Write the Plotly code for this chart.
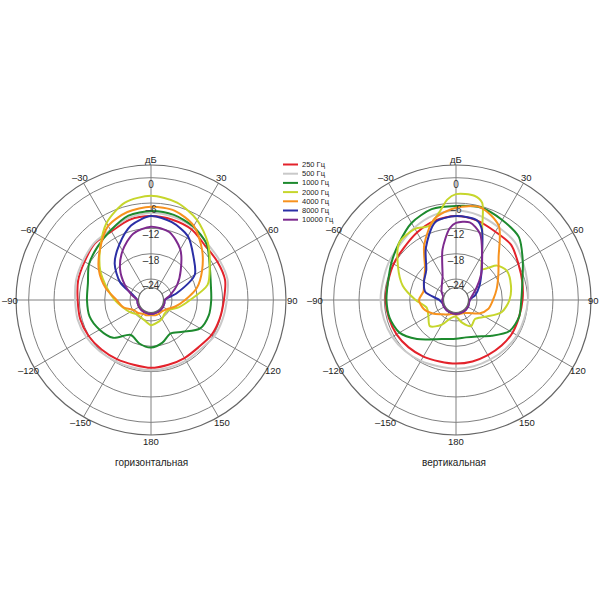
import math
import plotly.graph_objects as go

# ---------------- data ----------------
freq_labels = ["250 Гц", "500 Гц", "1000 Гц", "2000 Гц", "4000 Гц", "8000 Гц", "10000 Гц"]
colors = ["#e3222b", "#c9c9c9", "#1d8a2e", "#c6d62c", "#f7921e", "#2b2fa6", "#7d2a8e"]

ang_ticks = [0, 30, 60, 90, 120, 150, 180, 210, 240, 270, 300, 330]
ang_text = ["дБ", "30", "60", "90", "120", "150", "180", "–150", "–120", "–90", "–60", "–30"]
db_ticks = [0, -6, -12, -18, -24]
db_text = ["0", "–6", "–12", "–18", "–24"]

ANG15 = list(range(0, 360, 15))

# horizontal plane (left)
h_250 = [-9.1, -9.3, -9.7, -10.8, -10.8, -10.8, -11.7, -12.1, -12.4, -13.1, -13.1, -13.1,
         -12.9, -13.1, -12.8, -12.4, -11.9, -11.6, -11.6, -11.1, -10.8, -10.1, -10.2, -9.3]
h_500 = [-8.3, -8.6, -9.1, -10.1, -10.2, -10.2, -11.0, -11.4, -11.7, -12.4, -12.4, -12.4,
         -12.3, -12.4, -12.2, -11.8, -11.3, -11.0, -11.0, -10.6, -10.4, -9.9, -9.8, -8.8]
h_1000 = [-7.9, -8.1, -8.9, -10.3, -12.9, -14.3, -14.7, -14.8, -15.5, -18.3, -19.8, -18.5,
          -17.7, -18.3, -19.4, -16.3, -14.9, -13.9, -13.8, -13.5, -12.0, -11.1, -9.9, -8.3]
h_2000 = [-4.3, -5.1, -7.1, -9.9, -12.9, -15.1, -19.7, -22.2, -24.2, -24.4, -23.8, -23.4,
          -23.0, -23.8, -24.2, -24.2, -23.2, -22.1, -20.4, -18.2, -15.1, -11.9, -7.9, -5.1]
h_4000 = [-6.9, -7.1, -8.7, -11.9, -15.0, -17.7, -20.9, -23.0, -24.6, -25.2, -25.2, -25.2,
          -25.4, -25.2, -25.2, -24.6, -24.2, -22.2, -20.8, -17.8, -14.7, -11.9, -8.7, -7.4]
h_8000 = [-9.1, -9.9, -11.5, -14.7, -17.0, -22.6, -25.7, -25.7, -25.7, -25.7, -25.7, -25.7,
          -25.7, -25.7, -25.7, -25.7, -25.7, -25.7, -25.7, -24.6, -20.5, -16.8, -13.9, -10.7]
h_10000 = [-11.6, -12.3, -15.1, -19.0, -21.8, -24.2, -25.7, -25.7, -25.7, -25.7, -25.7, -25.7,
           -25.7, -25.7, -25.7, -25.7, -25.7, -25.7, -25.7, -24.2, -21.8, -18.6, -15.5, -12.7]

# vertical plane (right)
v_250 = [-9.1, -9.5, -10.3, -10.5, -11.9, -12.7, -13.2, -13.5, -13.5, -13.7, -13.9, -13.9,
         -13.9, -13.9, -13.5, -13.1, -12.7, -12.5, -12.3, -12.3, -11.9, -11.5, -10.5, -9.5]
v_500 = [-7.8, -8.2, -9.0, -9.4, -10.7, -11.5, -11.9, -12.2, -12.3, -12.5, -12.7, -12.7,
         -12.7, -12.7, -12.3, -11.9, -11.5, -11.3, -11.1, -11.1, -10.7, -10.3, -9.2, -8.2]
v_1000 = [-6.7, -6.3, -7.1, -7.9, -10.7, -12.7, -13.5, -13.5, -14.3, -17.0, -19.0, -19.8,
          -19.8, -19.4, -18.2, -15.9, -13.5, -12.7, -12.5, -12.3, -11.3, -9.9, -7.9, -6.7]
v_2000_ang = [0, 10, 15, 20, 30, 40, 45, 50, 60, 75, 90, 105, 120, 135, 150, 165, 180, 195,
              210, 225, 240, 255, 270, 285, 300, 315, 330, 340, 350, 355]
v_2000 = [-3.9, -3.9, -5.1, -10.8, -16.6, -19.4, -18.2, -16.3, -15.1, -15.5, -16.3, -17.8,
          -21.0, -22.6, -21.8, -23.4, -25.0, -24.6, -22.2, -20.2, -21.4, -21.8, -19.4, -15.9,
          -13.1, -9.9, -9.5, -10.3, -7.5, -5.1]
v_4000 = [-7.1, -6.3, -8.7, -14.7, -17.4, -19.0, -20.2, -21.0, -22.6, -24.6, -25.4, -25.5,
          -25.5, -25.5, -25.0, -24.2, -22.6, -21.0, -20.2, -21.0, -20.2, -18.6, -13.9, -9.1]
v_8000_ang = [0, 15, 20, 30, 45, 60, 75, 90, 120, 150, 180, 210, 240, 255, 270, 285, 300, 315, 330, 345]
v_8000 = [-9.1, -9.5, -11.1, -16.6, -20.5, -22.6, -24.2, -25.7, -25.7, -25.7, -25.7, -25.7,
          -25.7, -25.7, -25.0, -21.4, -20.2, -19.0, -14.7, -9.9]
v_10000_ang = [0, 10, 20, 30, 45, 60, 75, 90, 120, 150, 180, 210, 240, 270, 285, 300, 315, 330, 345, 355]
v_10000 = [-10.7, -10.3, -12.3, -16.6, -20.6, -23.4, -25.0, -25.7, -25.7, -25.7, -25.7, -25.7,
           -25.7, -25.7, -25.8, -25.0, -24.2, -22.6, -16.6, -11.9]

left_series = [(ANG15, h_250), (ANG15, h_500), (ANG15, h_1000), (ANG15, h_2000),
               (ANG15, h_4000), (ANG15, h_8000), (ANG15, h_10000)]
right_series = [(ANG15, v_250), (ANG15, v_500), (ANG15, v_1000), (v_2000_ang, v_2000),
                (ANG15, v_4000), (v_8000_ang, v_8000), (v_10000_ang, v_10000)]

R_MIN, R_MAX = -26, 3

# ---------------- geometry (body margin removed via post_script) ----------------
W = H = 600
RAD = 135
CY = 300
CX_L, CX_R = 151, 456
LABEL_RAD = 141  # angular labels ring


def px(x):
    return x / W


def py(y):
    return 1 - y / H


def dom(cx):
    return dict(x=[px(cx - RAD), px(cx + RAD)], y=[py(CY + RAD), py(CY - RAD)])


# ---------------- figure ----------------
fig = go.Figure()


def closed(a, r):
    return list(a) + [a[0] + 360], list(r) + [r[0]]


for i, (lbl, col) in enumerate(zip(freq_labels, colors)):
    th, rr = closed(*left_series[i])
    fig.add_trace(go.Scatterpolar(r=rr, theta=th, mode="lines", name=lbl, showlegend=False,
                                  line=dict(color=col, width=2, shape="spline", smoothing=0.8),
                                  subplot="polar2", hoverinfo="skip"))
    th, rr = closed(*right_series[i])
    fig.add_trace(go.Scatterpolar(r=rr, theta=th, mode="lines", name=lbl, showlegend=False,
                                  line=dict(color=col, width=2, shape="spline", smoothing=0.8),
                                  subplot="polar4", hoverinfo="skip"))

LABEL_SHIFT = 1.8   # radial labels sit just inside their circle
for sp in ["polar2", "polar4"]:
    fig.add_trace(go.Scatterpolar(r=[t - LABEL_SHIFT for t in db_ticks], theta=[0] * len(db_ticks),
                                  mode="text", text=db_text, textposition="middle center",
                                  textfont=dict(size=10, color="#333"), showlegend=False,
                                  cliponaxis=False, subplot=sp, hoverinfo="skip"))

GRID_FAINT = "#9c9c9c"
GRID_SOLID = "#808080"
HOLE = 12.5 / RAD


def base_polar(cx):
    return dict(
        domain=dom(cx), hole=HOLE, bgcolor="white",
        radialaxis=dict(range=[R_MIN, R_MAX], tickvals=list(range(-24, 4, 3)), showticklabels=False,
                        ticks="", showline=False, gridcolor=GRID_FAINT, griddash="dot", gridwidth=1),
        angularaxis=dict(rotation=90, direction="clockwise", tickvals=list(range(0, 360, 15)),
                         showticklabels=False, ticks="", showline=False,
                         gridcolor=GRID_FAINT, griddash="dot", gridwidth=1),
    )


def top_polar(cx):
    return dict(
        domain=dom(cx), hole=HOLE, bgcolor="rgba(0,0,0,0)",
        radialaxis=dict(range=[R_MIN, R_MAX], tickvals=[-24, -18, -12, -6, 0], showticklabels=False,
                        ticks="", showline=False, gridcolor=GRID_SOLID, gridwidth=1),
        angularaxis=dict(rotation=90, direction="clockwise", tickvals=ang_ticks,
                         showticklabels=False, ticks="", showline=True, linecolor="#666",
                         linewidth=1.2, gridcolor=GRID_SOLID, gridwidth=1),
    )


shapes = []
annotations = []

# angular tick labels, placed on a ring just outside each rim (kept inside the page)
for cx in (CX_L, CX_R):
    for a, t in zip(ang_ticks, ang_text):
        ax = cx + LABEL_RAD * math.sin(math.radians(a))
        ay = CY - LABEL_RAD * math.cos(math.radians(a))
        ax = min(max(ax, 9), 593)
        annotations.append(dict(text=t, x=px(ax), y=py(ay), xref="paper", yref="paper",
                                xanchor="center", yanchor="middle", showarrow=False,
                                font=dict(size=9.5, color="#222")))

# compact legend drawn with shapes + text
LEG_Y0, LEG_DY = 164.5, 9.2
for i, (lbl, col) in enumerate(zip(freq_labels, colors)):
    y = LEG_Y0 + i * LEG_DY
    shapes.append(dict(type="line", xref="paper", yref="paper", x0=px(283), x1=px(298),
                       y0=py(y), y1=py(y), line=dict(color=col, width=2)))
    annotations.append(dict(text=lbl, x=px(300), y=py(y), xref="paper", yref="paper",
                            xanchor="left", yanchor="middle", showarrow=False,
                            font=dict(size=7.5, color="#222")))

annotations.append(dict(text="горизонтальная", x=px(CX_L), y=py(462), xref="paper", yref="paper",
                        xanchor="center", yanchor="middle", showarrow=False,
                        font=dict(size=10, color="#222")))
annotations.append(dict(text="вертикальная", x=px(CX_R - 2), y=py(462), xref="paper", yref="paper",
                        xanchor="center", yanchor="middle", showarrow=False,
                        font=dict(size=10, color="#222")))

fig.update_layout(
    width=W, height=H,
    paper_bgcolor="white", plot_bgcolor="white",
    margin=dict(l=0, r=0, t=0, b=0),
    font=dict(family="Liberation Sans", color="#222"),
    polar=base_polar(CX_L), polar2=top_polar(CX_L),
    polar3=base_polar(CX_R), polar4=top_polar(CX_R),
    showlegend=False,
    shapes=shapes,
    annotations=annotations,
)

fig.write_html("out.html",
               config={"displayModeBar": False, "staticPlot": True},
               post_script="document.body.style.margin='0';document.body.style.overflow='hidden';")
